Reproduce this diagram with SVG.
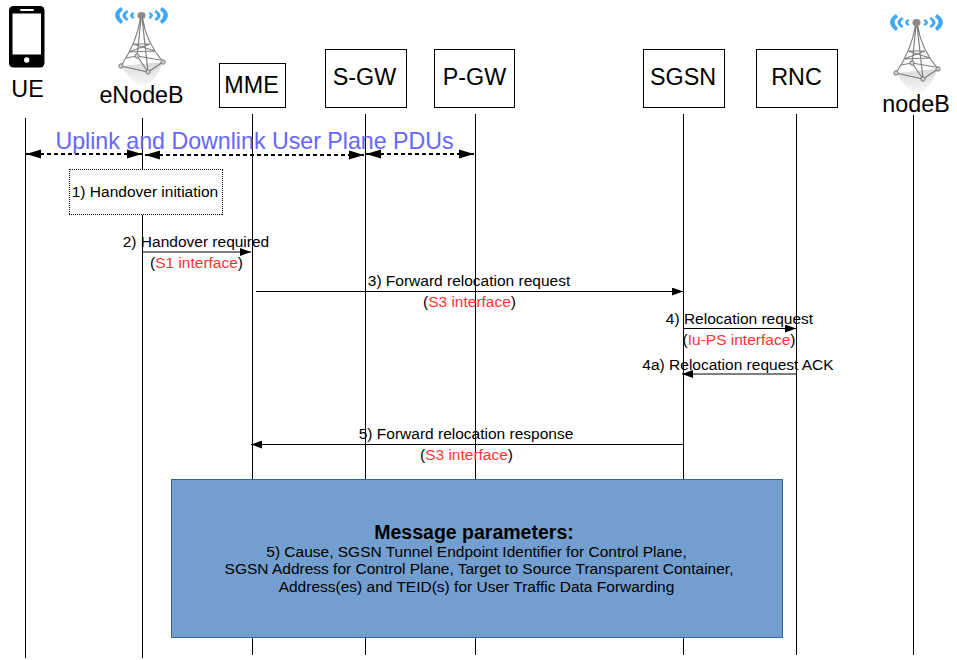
<svg xmlns="http://www.w3.org/2000/svg" width="957" height="660" viewBox="0 0 957 660">
<style>
text{font-family:"Liberation Sans",Arial,sans-serif;fill:#000}
.n{font-size:23.3px;text-anchor:middle}
.b{fill:#fff;stroke:#000;stroke-width:1}
.l{stroke:#000;stroke-width:1;fill:none}
.m{font-size:15.5px;text-anchor:middle}
.red{fill:#ff3333}
.d{stroke:#000;stroke-width:2;stroke-dasharray:4 3;fill:none;marker-start:url(#bs);marker-end:url(#be)}
.a{stroke:#000;stroke-width:1;fill:none;marker-end:url(#ae)}
.t{fill:none;stroke:#7f7f7f;stroke-width:1.2}
.foot{fill:#d0d0d0;stroke:#777;stroke-width:1}
</style>
<defs>
<marker id="ae" markerUnits="userSpaceOnUse" markerWidth="11" markerHeight="8" refX="11" refY="4" orient="auto"><path d="M0 0L11 4L0 8Z" fill="#000"/></marker>
<marker id="be" markerUnits="userSpaceOnUse" markerWidth="15" markerHeight="10" refX="15" refY="5" orient="auto"><path d="M0 .5L15 5L0 9.500Z" fill="#000"/></marker>
<marker id="bs" markerUnits="userSpaceOnUse" markerWidth="15" markerHeight="10" refX="0" refY="5" orient="auto"><path d="M15 .5L0 5L15 9.500Z" fill="#000"/></marker>
<linearGradient id="refl" x1="0" y1="0" x2="0" y2="1"><stop offset="0" stop-color="#d8d8d8"/><stop offset="1" stop-color="#d8d8d8" stop-opacity="0"/></linearGradient>
<g id="tower">
<path d="M121 66L163 62L155 78L142 90L130 78Z" fill="url(#refl)"/>
<g fill="#3fa9f5">
<path d="M121 7Q109 15 121 24L123 21Q116 15 123 10Z"/>
<path d="M127 10Q118 15.500 127 21L128.500 19Q123 15.500 128.500 12Z"/>
<path d="M133 12Q127 15.500 133 19L134.500 17.500Q131.500 15.500 134.500 13.500Z"/>
<path d="M162 7Q174 15 162 24L160 21Q167 15 160 10Z"/>
<path d="M156 10Q165 15.500 156 21L154.500 19Q160 15.500 154.500 12Z"/>
<path d="M150 12Q156 15.500 150 19L148.500 17.500Q151.500 15.500 148.500 13.500Z"/>
</g>
<path class="t" d="M140.500 18Q137 42 121 66M142.500 18Q146 42 163 62M141 18Q139 40 137 56M142 18Q145 45 148 72M133 44L150 44M129 52L155 51M126 58L137 56L160 60M121 66L148 72L163 62M133 44L155 51M150 44L129 52M137 56L148 72"/>
<ellipse cx="141.500" cy="15.500" rx="4" ry="3.500" fill="#8a8a8a"/>
<circle class="foot" cx="121" cy="66" r="2.200"/><circle class="foot" cx="163" cy="62" r="2.200"/><circle class="foot" cx="148" cy="72" r="2.200"/><circle class="foot" cx="137" cy="56" r="2.200"/>
</g>
</defs>
<g id="connectors">
<path class="l" d="M25.500 118V658M142.500 118V658M252.500 114V655M365.500 114V655M475.500 114V655M683.500 114V655M796.500 114V655M913.500 115V655"/>
<path class="d" d="M26 154H142"/>
<path class="d" d="M145 155H364"/>
<path class="d" d="M366 154H474"/>
<path class="a" d="M143 252H251"/>
<path class="a" d="M256 291.500H683"/>
<path class="a" d="M684 328.500H796"/>
<path class="a" d="M796 374H682"/>
<path class="a" d="M683 444.500H251"/>
</g>
<g id="ue">
<rect x="9" y="6" width="35.500" height="61.500" rx="4.500" fill="#000"/>
<rect x="12.500" y="13.500" width="28.500" height="41" fill="#fff"/>
<rect x="20" y="9" width="14" height="2" rx="1" fill="#fff"/>
<circle cx="26.700" cy="60" r="2.700" fill="#fff"/>
<text class="n" x="27.500" y="97">UE</text>
</g>
<g id="enodeb">
<use href="#tower"/>
<text class="n" x="141.500" y="103">eNodeB</text>
</g>
<g id="mme"><rect class="b" x="219.500" y="63.500" width="66" height="44"/><text class="n" x="251.500" y="93">MME</text></g>
<g id="sgw"><rect class="b" x="325.500" y="49.500" width="81" height="58"/><text class="n" x="364.500" y="85">S-GW</text></g>
<g id="pgw"><rect class="b" x="434.500" y="49.500" width="80" height="58"/><text class="n" x="474.500" y="85">P-GW</text></g>
<g id="sgsn"><rect class="b" x="643.500" y="49.500" width="81" height="58"/><text class="n" x="683" y="85">SGSN</text></g>
<g id="rnc"><rect class="b" x="756.500" y="49.500" width="81" height="58"/><text class="n" x="796.500" y="85">RNC</text></g>
<g id="nodeb">
<use href="#tower" x="775" y="7"/>
<text class="n" x="916" y="112">nodeB</text>
</g>
<g id="labels">
<text x="254.500" y="149" font-size="23.200" text-anchor="middle" style="fill:#6666ff">Uplink and Downlink User Plane PDUs</text>
<text class="m" x="196" y="247">2) Handover required</text>
<text class="m" x="196.500" y="268">(<tspan class="red">S1 interface</tspan>)</text>
<text class="m" x="469" y="286">3) Forward relocation request</text>
<text class="m" x="469.500" y="307">(<tspan class="red">S3 interface</tspan>)</text>
<text class="m" x="739.500" y="324">4) Relocation request</text>
<text class="m" x="739" y="345">(<tspan class="red">Iu-PS interface</tspan>)</text>
<text class="m" x="738" y="370">4a) Relocation request ACK</text>
<text class="m" x="466" y="439">5) Forward relocation response</text>
<text class="m" x="466.500" y="460">(<tspan class="red">S3 interface</tspan>)</text>
</g>
<g id="handover-initiation">
<rect x="69" y="169" width="154" height="46" fill="#fff"/>
<path d="M70 169.500H223M222.500 170V215M222 214.500H69M69.500 214V169" fill="none" stroke="#000" stroke-dasharray="1 1"/>
<text class="m" x="145" y="197">1) Handover initiation</text>
</g>
<g id="message-parameters">
<rect x="171.500" y="479.500" width="611" height="158" fill="#729fcf" stroke="#34659b"/>
<text x="474" y="539" font-size="19.500" font-weight="bold" text-anchor="middle">Message parameters:</text>
<text class="m" x="476.500" y="557">5) Cause, SGSN Tunnel Endpoint Identifier for Control Plane,</text>
<text class="m" x="479" y="574">SGSN Address for Control Plane, Target to Source Transparent Container,</text>
<text class="m" x="476.500" y="592">Address(es) and TEID(s) for User Traffic Data Forwarding</text>
</g>
</svg>
